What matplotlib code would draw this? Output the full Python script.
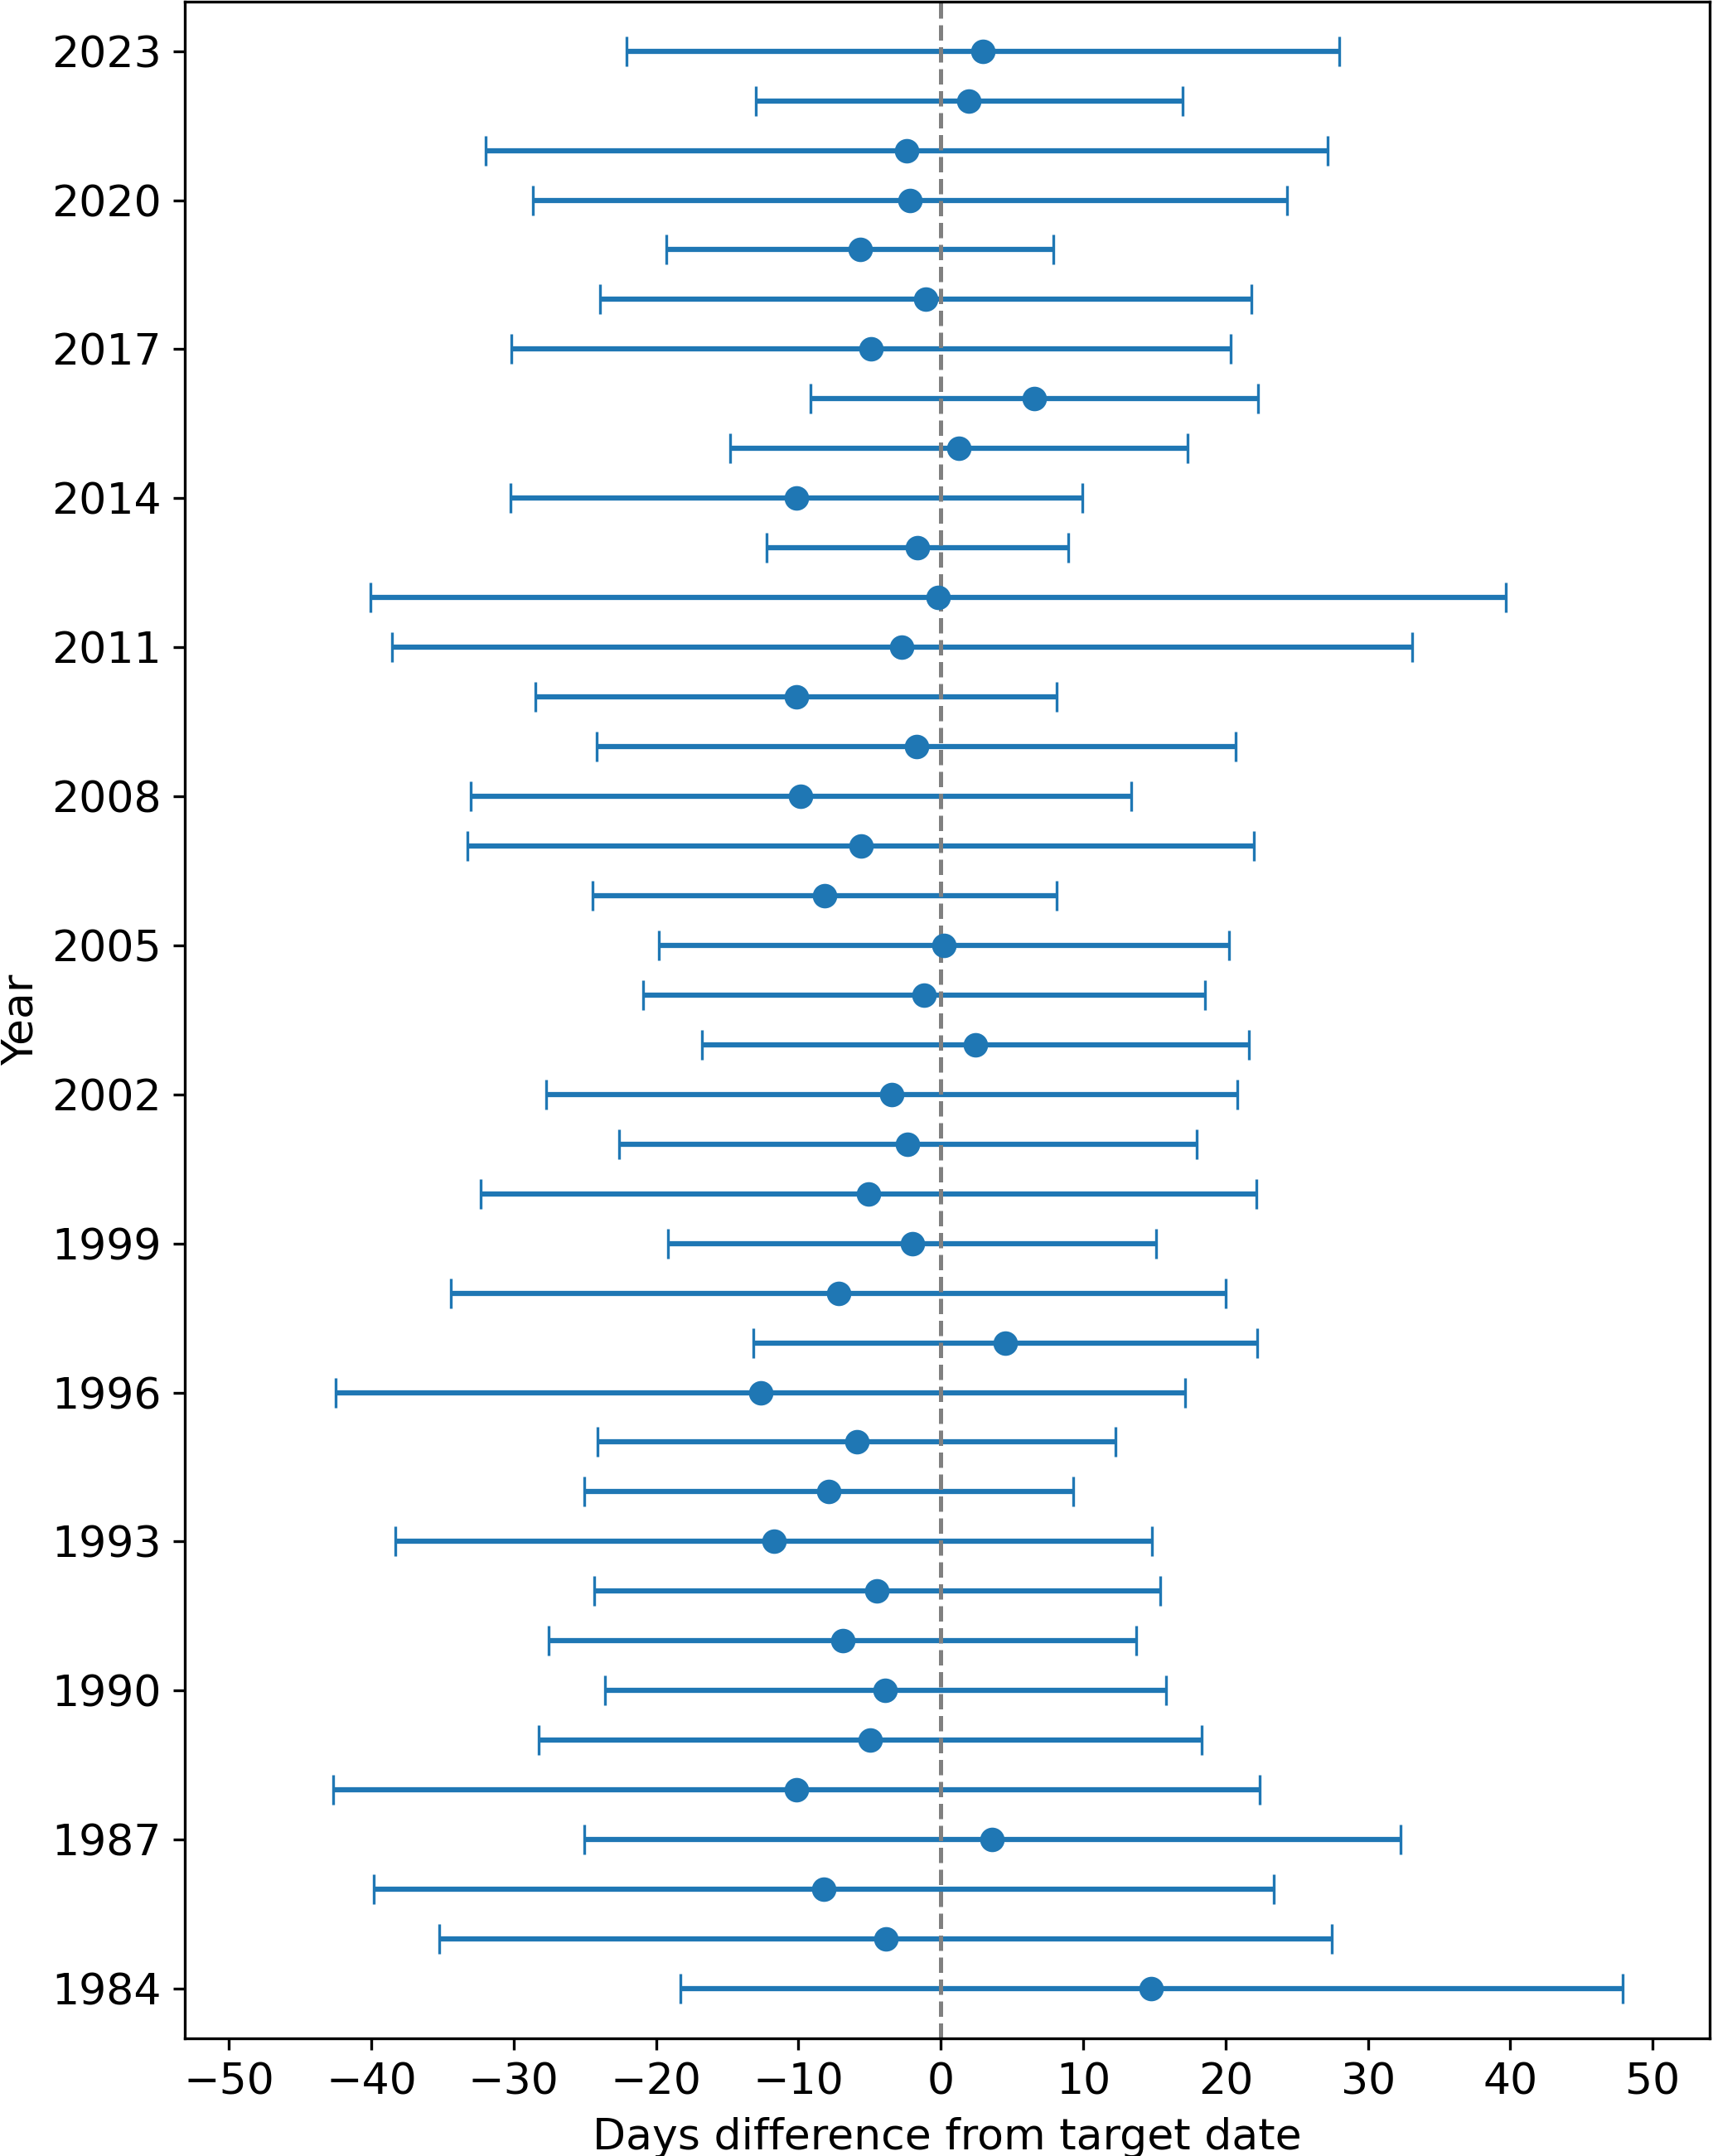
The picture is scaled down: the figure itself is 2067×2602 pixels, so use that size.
import matplotlib
matplotlib.use("Agg")
import matplotlib.pyplot as plt

years = [1984, 1985, 1986, 1987, 1988, 1989, 1990, 1991, 1992, 1993,
         1994, 1995, 1996, 1997, 1998, 1999, 2000, 2001, 2002, 2003,
         2004, 2005, 2006, 2007, 2008, 2009, 2010, 2011, 2012, 2013,
         2014, 2015, 2016, 2017, 2018, 2019, 2020, 2021, 2022, 2023]

mean_diff = [14.79, -3.87, -8.22, 3.60, -10.13, -4.96, -3.91, -6.90, -4.47, -11.74,
             -7.85, -5.92, -12.67, 4.52, -7.20, -2.01, -5.08, -2.32, -3.45, 2.43,
             -1.17, 0.21, -8.18, -5.62, -9.83, -1.72, -10.16, -2.74, -0.18, -1.65,
             -10.15, 1.28, 6.55, -4.92, -1.05, -5.69, -2.17, -2.42, 1.99, 2.97]

err_diff = [33.10, 31.34, 31.61, 28.66, 32.53, 23.26, 19.70, 20.62, 19.89, 26.55,
            17.17, 18.20, 29.85, 17.70, 27.21, 17.13, 27.25, 20.27, 24.29, 19.20,
            19.73, 20.04, 16.29, 27.63, 23.18, 22.45, 18.32, 35.82, 39.89, 10.58,
            20.08, 16.06, 15.71, 25.25, 22.88, 13.60, 26.48, 29.58, 14.98, 25.02]

ytick_years = years[::3]

plt.rcParams['font.size'] = 12.5
plt.rcParams['xtick.major.size'] = 3.3
plt.rcParams['ytick.major.size'] = 3.3

W, H, DPI = 2067, 2602, 300
fig = plt.figure(figsize=(W / DPI, H / DPI), dpi=DPI)
left, right = 223 / W, 2063 / W
bottom, top = (H - 2460) / H, (H - 1.7) / H
ax = fig.add_axes([left, bottom, right - left, top - bottom])

ax.errorbar(mean_diff, years, xerr=err_diff, fmt='o', color='#1f77b4',
            capsize=4.4, markersize=6.1, lw=1.5, capthick=0.8)
ax.axvline(0, color='gray', linestyle='--', lw=1.2)

ax.set_xlim(-53.1, 54.0)
ax.set_ylim(1983, 2024)
ax.set_yticks(ytick_years)
ax.set_xticks([-50, -40, -30, -20, -10, 0, 10, 20, 30, 40, 50])
ax.set_xlabel('Days difference from target date')
ax.set_ylabel('Year')
ax.yaxis.set_label_coords(-0.0935, 0.5)

fig.savefig('out.png', dpi=DPI)
